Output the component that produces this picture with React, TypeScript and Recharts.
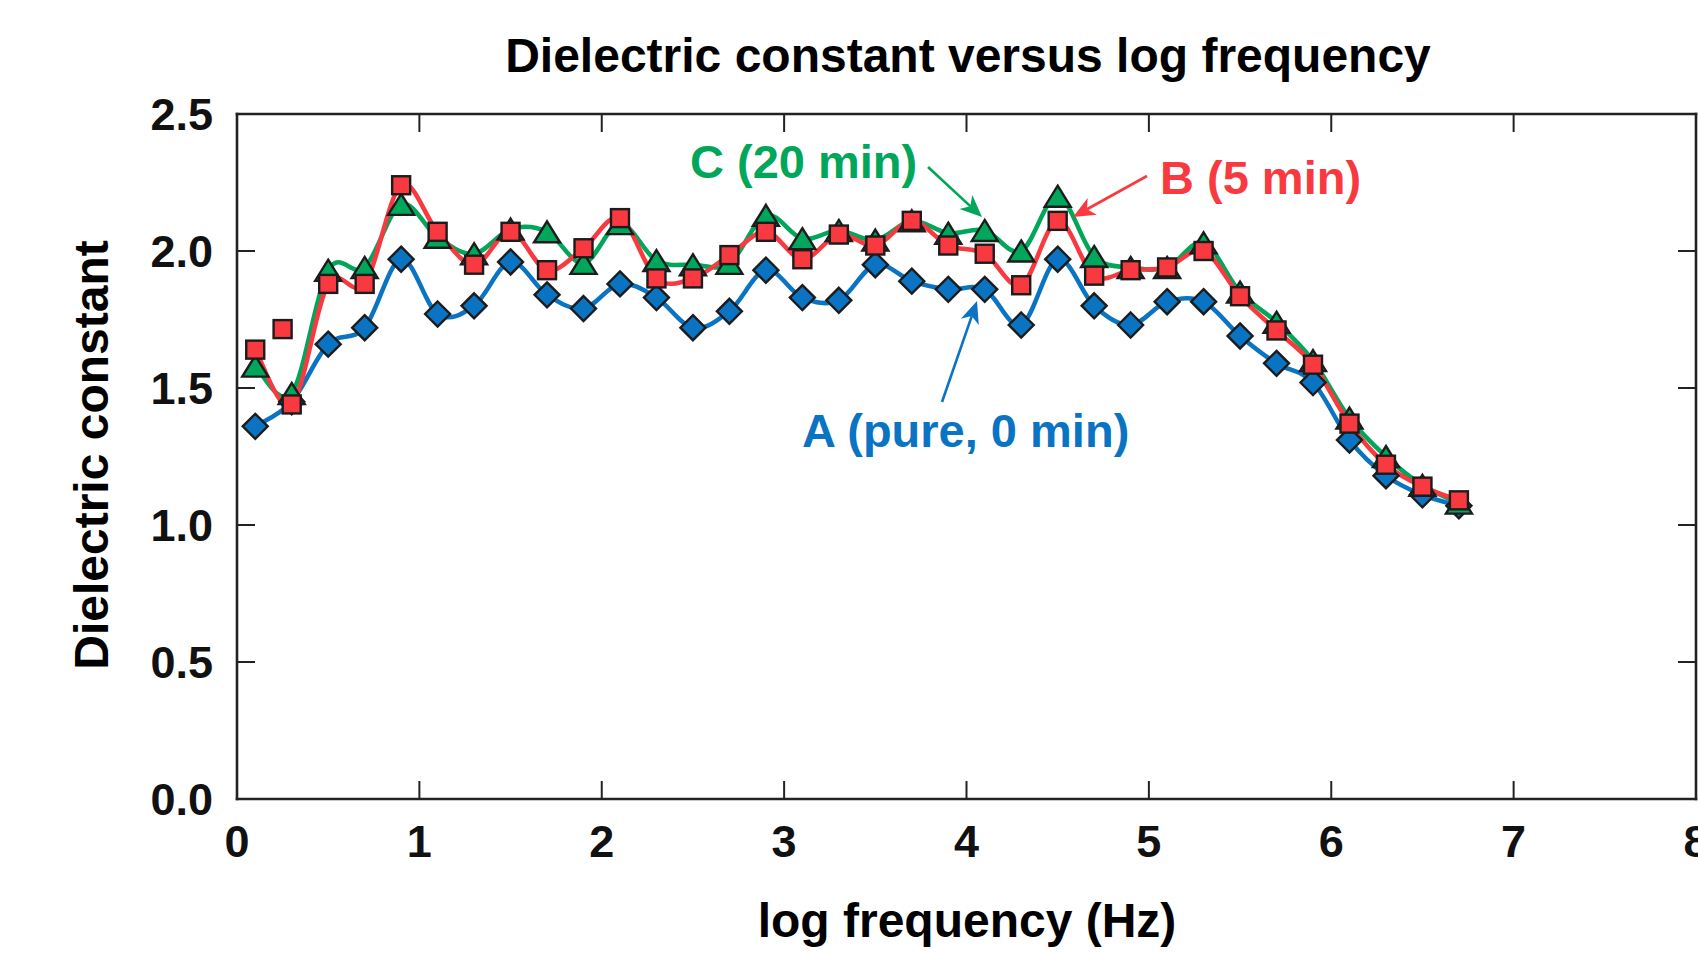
import React from 'react';
import { ComposedChart, Line, Scatter, XAxis, YAxis } from 'recharts';

// ---- data ----
const freqs = [
  0.1, 0.3, 0.5, 0.7, 0.9, 1.1, 1.3, 1.5, 1.7, 1.9, 2.1, 2.3, 2.5, 2.7, 2.9, 3.1, 3.3,
  3.5, 3.7, 3.9, 4.1, 4.3, 4.5, 4.7, 4.9, 5.1, 5.3, 5.5, 5.7, 5.9, 6.1, 6.3, 6.5, 6.7,
];
const seriesA = [
  1.36, 1.45, 1.66, 1.72, 1.97, 1.77, 1.8, 1.96, 1.84, 1.79, 1.88, 1.83, 1.72, 1.78, 1.93, 1.83, 1.82,
  1.95, 1.89, 1.86, 1.86, 1.73, 1.97, 1.8, 1.73, 1.815, 1.815, 1.69, 1.59, 1.52, 1.31, 1.18, 1.11, 1.07,
];
const seriesB = [
  1.64, 1.44, 1.88, 1.88, 2.24, 2.07, 1.95, 2.07, 1.93, 2.01, 2.12, 1.9, 1.9, 1.985, 2.07, 1.97, 2.06,
  2.02, 2.11, 2.02, 1.99, 1.875, 2.11, 1.91, 1.93, 1.94, 2.0, 1.835, 1.71, 1.585, 1.37, 1.22, 1.14, 1.09,
];
const seriesC = [
  1.58, 1.48, 1.93, 1.94, 2.17, 2.05, 1.99, 2.08, 2.07, 1.955, 2.1, 1.965, 1.95, 1.955, 2.13, 2.045, 2.075,
  2.04, 2.11, 2.065, 2.075, 2.0, 2.2, 1.98, 1.94, 1.94, 2.03, 1.85, 1.74, 1.6, 1.39, 1.25, 1.145, 1.08,
];
const strayBx = [0.25];
const strayBy = [1.715];
const xTicks = [0, 1, 2, 3, 4, 5, 6, 7, 8];
const yTicks = [0, 0.5, 1.0, 1.5, 2.0, 2.5];

const dataA = freqs.map((x, i) => ({ x, y: seriesA[i] }));
const dataB = freqs.map((x, i) => ({ x, y: seriesB[i] }));
const dataC = freqs.map((x, i) => ({ x, y: seriesC[i] }));
const dataStray = strayBx.map((x, i) => ({ x, y: strayBy[i] }));

// ---- styles ----
const BLUE = '#0a74c2';
const RED = '#f8393f';
const GREEN = '#00a65a';
const EDGE = '#1c1c1c';
const AXIS = '#222222';
const FONT = '"Liberation Sans", Arial, Helvetica, sans-serif';

// Catmull-Rom style smoothing curve (passes through every point)
function smoothCurve(context: any) {
  let pts: number[][] = [];
  const k = 1 / 6;
  return {
    areaStart() {},
    areaEnd() {},
    lineStart() {
      pts = [];
    },
    point(x: number, y: number) {
      pts.push([+x, +y]);
    },
    lineEnd() {
      const n = pts.length;
      if (!n) return;
      context.moveTo(pts[0][0], pts[0][1]);
      for (let i = 0; i < n - 1; i++) {
        const p0 = pts[i - 1] || pts[i];
        const p1 = pts[i];
        const p2 = pts[i + 1];
        const p3 = pts[i + 2] || p2;
        context.bezierCurveTo(
          p1[0] + (p2[0] - p0[0]) * k,
          p1[1] + (p2[1] - p0[1]) * k,
          p2[0] - (p3[0] - p1[0]) * k,
          p2[1] - (p3[1] - p1[1]) * k,
          p2[0],
          p2[1]
        );
      }
    },
  };
}

const diamondDot = (p: any) => {
  const { cx, cy, index } = p;
  if (cx == null || cy == null) return <g key={`a-${index}`} />;
  const r = 12.5;
  return (
    <path
      key={`a-${index}`}
      d={`M${cx},${cy - r}L${cx + r},${cy}L${cx},${cy + r}L${cx - r},${cy}Z`}
      fill={BLUE}
      stroke={EDGE}
      strokeWidth={2.4}
      strokeLinejoin="miter"
    />
  );
};

const squareDot = (p: any) => {
  const { cx, cy, index } = p;
  if (cx == null || cy == null) return <g key={`b-${index}`} />;
  const h = 9;
  return (
    <rect
      key={`b-${index}`}
      x={cx - h}
      y={cy - h}
      width={2 * h}
      height={2 * h}
      fill={RED}
      stroke={EDGE}
      strokeWidth={2.4}
    />
  );
};

const triangleDot = (p: any) => {
  const { cx, cy, index } = p;
  if (cx == null || cy == null) return <g key={`c-${index}`} />;
  const w = 13;
  const h = 10.5;
  return (
    <path
      key={`c-${index}`}
      d={`M${cx},${cy - h}L${cx + w},${cy + h}L${cx - w},${cy + h}Z`}
      fill={GREEN}
      stroke={EDGE}
      strokeWidth={2.4}
      strokeLinejoin="miter"
    />
  );
};

function Arrow({ x0, y0, x1, y1, color }: { x0: number; y0: number; x1: number; y1: number; color: string }) {
  const dx = x1 - x0;
  const dy = y1 - y0;
  const len = Math.sqrt(dx * dx + dy * dy);
  const ux = dx / len;
  const uy = dy / len;
  const nx = -uy;
  const ny = ux;
  const L = 22;
  const W = 9.5;
  const notch = 16;
  const bx = x1 - L * ux;
  const by = y1 - L * uy;
  const mx = x1 - notch * ux;
  const my = y1 - notch * uy;
  return (
    <g>
      <line x1={x0} y1={y0} x2={mx} y2={my} stroke={color} strokeWidth={2.6} />
      <path
        d={`M${x1},${y1}L${bx + W * nx},${by + W * ny}L${mx},${my}L${bx - W * nx},${by - W * ny}Z`}
        fill={color}
      />
    </g>
  );
}

const tickStyle = { fill: '#111', fontSize: 45, fontWeight: 700, fontFamily: FONT };
const axisLineStyle = { stroke: AXIS, strokeWidth: 2.6, strokeLinecap: 'square' as const };
const tickLineStyle = { stroke: AXIS, strokeWidth: 2 };
const noLabel = () => <g />;

export default function App() {
  return (
    <div style={{ position: 'absolute', left: 0, top: 0, width: 1698, height: 954, overflow: 'hidden', background: '#fff' }}>
      <ComposedChart
        width={1698}
        height={954}
        margin={{ top: 114, right: 2, bottom: 95, left: 177 }}
      >
        <XAxis
          xAxisId={0}
          type="number"
          dataKey="x"
          domain={[0, 8]}
          ticks={xTicks}
          allowDataOverflow
          height={60}
          tickSize={-18}
          tickMargin={44}
          tick={tickStyle}
          axisLine={axisLineStyle}
          tickLine={tickLineStyle}
          interval={0}
        />
        <XAxis
          xAxisId="top"
          orientation="top"
          mirror
          type="number"
          dataKey="x"
          domain={[0, 8]}
          ticks={xTicks}
          allowDataOverflow
          height={30}
          tickSize={18}
          tick={noLabel}
          axisLine={axisLineStyle}
          tickLine={tickLineStyle}
          interval={0}
        />
        <YAxis
          yAxisId={0}
          type="number"
          domain={[0, 2.5]}
          ticks={yTicks}
          allowDataOverflow
          width={60}
          tickSize={-18}
          tickMargin={42}
          tick={tickStyle}
          tickFormatter={(v: number) => v.toFixed(1)}
          axisLine={axisLineStyle}
          tickLine={tickLineStyle}
          interval={0}
        />
        <YAxis
          yAxisId="right"
          orientation="right"
          mirror
          type="number"
          domain={[0, 2.5]}
          ticks={yTicks}
          allowDataOverflow
          width={60}
          tickSize={18}
          tick={noLabel}
          axisLine={axisLineStyle}
          tickLine={tickLineStyle}
          interval={0}
        />
        {/* invisible series bound to the top/right frame axes so they render */}
        <Line
          data={dataA}
          dataKey="y"
          xAxisId="top"
          yAxisId="right"
          stroke="none"
          dot={false}
          activeDot={false}
          legendType="none"
          isAnimationActive={false}
        />
        <Line
          data={dataA}
          dataKey="y"
          type={smoothCurve as any}
          stroke={BLUE}
          strokeWidth={4.5}
          dot={diamondDot}
          activeDot={false}
          isAnimationActive={false}
        />
        <Line
          data={dataC}
          dataKey="y"
          type={smoothCurve as any}
          stroke={GREEN}
          strokeWidth={4.5}
          dot={triangleDot}
          activeDot={false}
          isAnimationActive={false}
        />
        <Line
          data={dataB}
          dataKey="y"
          type={smoothCurve as any}
          stroke={RED}
          strokeWidth={4.5}
          dot={squareDot}
          activeDot={false}
          isAnimationActive={false}
        />
        <Scatter
          data={dataStray}
          dataKey="y"
          shape={(p: any) => squareDot({ ...p, index: 'stray' })}
          isAnimationActive={false}
        />
      </ComposedChart>
      <svg
        width={1698}
        height={954}
        style={{ position: 'absolute', left: 0, top: 0, pointerEvents: 'none' }}
      >
        <text x={968} y={72} textAnchor="middle" fontFamily={FONT} fontWeight={700} fontSize={48} fill="#000">
          Dielectric constant versus log frequency
        </text>
        <text
          transform="translate(108,455) rotate(-90)"
          textAnchor="middle"
          fontFamily={FONT}
          fontWeight={700}
          fontSize={48}
          fill="#000"
        >
          Dielectric constant
        </text>
        <text x={967} y={937} textAnchor="middle" fontFamily={FONT} fontWeight={700} fontSize={48} fill="#000">
          log frequency (Hz)
        </text>
        <text x={690} y={178} fontFamily={FONT} fontWeight={700} fontSize={47} fill={GREEN}>
          C (20 min)
        </text>
        <text x={1160} y={194} fontFamily={FONT} fontWeight={700} fontSize={47} fill={RED}>
          B (5 min)
        </text>
        <text x={802} y={447} fontFamily={FONT} fontWeight={700} fontSize={47} fill={BLUE}>
          A (pure, 0 min)
        </text>
        <Arrow x0={928} y0={167} x1={982} y1={217} color={GREEN} />
        <Arrow x0={1147} y0={176} x1={1073} y1={217} color={RED} />
        <Arrow x0={942} y0={402} x1={977} y1={301} color={BLUE} />
      </svg>
    </div>
  );
}
